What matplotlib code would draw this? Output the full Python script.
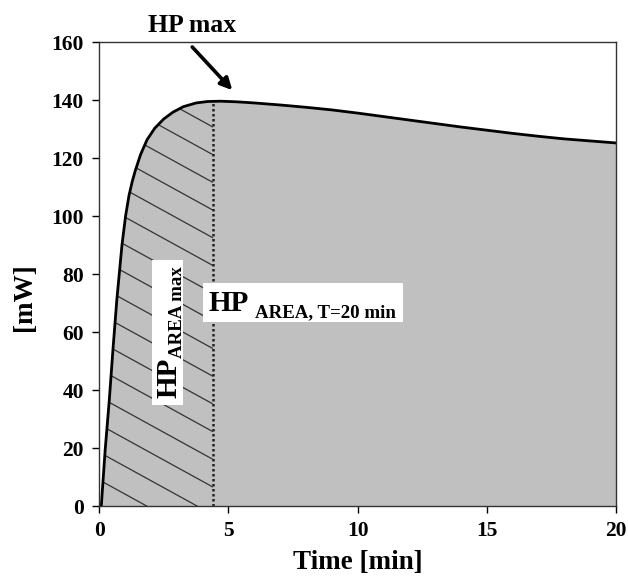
import numpy as np
import matplotlib
matplotlib.use("Agg")
import matplotlib.pyplot as plt
from matplotlib.patches import Polygon, Rectangle

# ---- data ----
time_min = [0.0, 0.08, 0.23, 0.39, 0.53, 0.68, 0.88, 1.02, 1.15, 1.28, 1.4, 1.6,
            1.85, 2.15, 2.5, 2.85, 3.25, 3.75, 4.2, 4.7, 5.3, 6, 7, 8, 9, 10, 11, 12,
            13, 14, 15, 16, 17, 18, 19, 20]
heat_mw = [0.0, 0.0, 19.3, 36.6, 53.8, 71.0, 90.0, 100.0, 107.0, 112.0, 115.8, 121.2,
           126.3, 130.3, 133.5, 135.8, 137.7, 139.0, 139.5, 139.6, 139.4, 139.0, 138.3,
           137.5, 136.6, 135.5, 134.3, 133.1, 131.9, 130.7, 129.6, 128.5, 127.5, 126.6,
           125.9, 125.2]
t_area_max = 4.4
x_ticks = [0, 5, 10, 15, 20]
y_ticks = [0, 20, 40, 60, 80, 100, 120, 140, 160]

SERIF = ["Liberation Serif", "DejaVu Serif"]
plt.rcParams["font.family"] = SERIF
plt.rcParams["font.weight"] = "bold"

fig = plt.figure(figsize=(6.28, 5.76), dpi=100)
ax = fig.add_axes([0.158, 0.1215, 0.823, 0.8055])
ax.set_xlim(0, 20)
ax.set_ylim(0, 160)

t = np.array(time_min)
h = np.array(heat_mw)

# grey area under the curve
ax.fill_between(t, 0, h, color="#c0c0c0", lw=0, zorder=1)

# hatched region up to t_area_max
mask = t <= t_area_max
ts = np.append(t[mask], t_area_max)
hs = np.append(h[mask], np.interp(t_area_max, t, h))
verts = [(ts[0], 0)] + list(zip(ts, hs)) + [(t_area_max, 0)]
clip_poly = Polygon(verts, closed=True, facecolor="none", edgecolor="none",
                    transform=ax.transData)
ax.add_patch(clip_poly)
slope = -4.9
for c in np.arange(28.1 - 9.55 * 3, 260, 9.55):
    xx = np.array([-1, 25])
    ln, = ax.plot(xx, c + slope * xx, color="#333333", lw=0.9, zorder=2)
    ln.set_clip_path(clip_poly)

# dotted vertical line
ax.plot([t_area_max, t_area_max], [0, np.interp(t_area_max, t, h)],
        color="#222222", lw=1.8, ls=(0, (1, 1)), zorder=3)

# curve
ax.plot(t, h, color="black", lw=2.0, zorder=4, solid_capstyle="round",
        solid_joinstyle="round")

# label boxes
ax.add_patch(Rectangle((4.02, 63.4), 11.76 - 4.02, 76.9 - 63.4,
                       facecolor="white", edgecolor="none", zorder=5))
ax.text(4.22, 67.2, "HP", fontsize=21, fontweight="bold", zorder=6,
        ha="left", va="baseline")
ax.text(6.03, 65.2, "AREA, T=20 min", fontsize=13.6, fontweight="bold", zorder=6,
        ha="left", va="baseline")

ax.add_patch(Rectangle((2.05, 34.8), 3.25 - 2.05, 84.8 - 34.8,
                       facecolor="white", edgecolor="none", zorder=5))
ax.text(2.98, 37.2, "HP", fontsize=21, fontweight="bold", zorder=6, rotation=90,
        rotation_mode="anchor", ha="left", va="baseline")
ax.text(3.21, 51.0, "AREA max", fontsize=13.6, fontweight="bold", zorder=6, rotation=90,
        rotation_mode="anchor", ha="left", va="baseline")

# HP max annotation
ax.annotate("", xy=(5.15, 143.4), xytext=(3.6, 158.3),
            arrowprops=dict(arrowstyle="-|>,head_length=0.7,head_width=0.35",
                            color="black", lw=2.6, shrinkA=0, shrinkB=0),
            annotation_clip=False, zorder=7)
ax.text(3.6, 163.5, "HP max", fontsize=18.5, fontweight="bold", ha="center",
        va="baseline", clip_on=False)

# axes styling
ax.set_xticks(x_ticks)
ax.set_yticks(y_ticks)
ax.tick_params(direction="out", length=5, width=1, labelsize=15.5, pad=6,
               top=False, right=False)
for lab in ax.get_xticklabels() + ax.get_yticklabels():
    lab.set_fontweight("bold")
for s in ax.spines.values():
    s.set_linewidth(1.0)
    s.set_color("#333333")
    s.set_zorder(8)

ax.set_xlabel("Time [min]", fontsize=19.5, fontweight="bold", labelpad=6)
ax.set_ylabel("[mW]", fontsize=19.5, fontweight="bold")
ax.yaxis.set_label_coords(-0.12, 0.45)

fig.savefig("out.png", dpi=100)
